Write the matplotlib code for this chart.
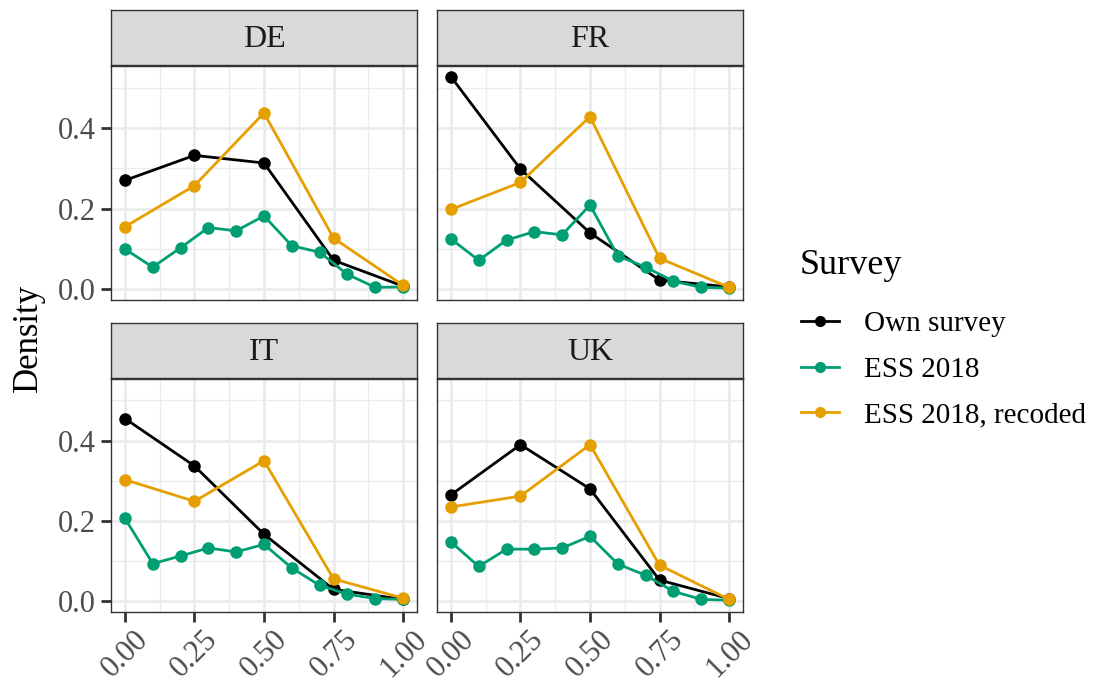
import matplotlib.pyplot as plt
import matplotlib.transforms as mtransforms
from matplotlib.lines import Line2D

plt.rcParams['font.family'] = ['Liberation Serif', 'DejaVu Serif']

countries = ["DE", "FR", "IT", "UK"]
x_coarse = [0.0, 0.25, 0.5, 0.75, 1.0]
x_fine = [0.0, 0.1, 0.2, 0.3, 0.4, 0.5, 0.6, 0.7, 0.8, 0.9, 1.0]

own = {
    "DE": [0.270, 0.332, 0.313, 0.072, 0.008],
    "FR": [0.527, 0.298, 0.140, 0.023, 0.006],
    "IT": [0.455, 0.337, 0.167, 0.030, 0.005],
    "UK": [0.265, 0.390, 0.280, 0.053, 0.007],
}
ess = {
    "DE": [0.100, 0.055, 0.103, 0.153, 0.145, 0.182, 0.108, 0.092, 0.037, 0.005, 0.006],
    "FR": [0.125, 0.072, 0.122, 0.143, 0.135, 0.209, 0.083, 0.055, 0.020, 0.005, 0.003],
    "IT": [0.207, 0.094, 0.113, 0.133, 0.123, 0.142, 0.083, 0.040, 0.018, 0.007, 0.005],
    "UK": [0.148, 0.087, 0.130, 0.130, 0.133, 0.162, 0.093, 0.065, 0.025, 0.005, 0.003],
}
ess_recoded = {
    "DE": [0.155, 0.257, 0.437, 0.127, 0.010],
    "FR": [0.198, 0.265, 0.428, 0.077, 0.005],
    "IT": [0.303, 0.249, 0.350, 0.056, 0.008],
    "UK": [0.235, 0.262, 0.390, 0.090, 0.005],
}

series_names = ["Own survey", "ESS 2018", "ESS 2018, recoded"]
colors = ["#000000", "#009E73", "#E69F00"]

W, H = 1099, 682
fig = plt.figure(figsize=(W / 100, H / 100), dpi=100)

# pixel boxes of the plot panels
cols = [(111, 417), (437, 743)]
rows = [(66, 300), (379, 612)]
strip_h = 55

ymax_all = max(max(v) for v in list(own.values()) + list(ess.values()) + list(ess_recoded.values()))
ylim = (-0.05 * ymax_all, ymax_all * 1.05)

# nudge rotated x labels a bit to the right, as ggplot places them
shift = mtransforms.ScaledTranslation(9 / 100, 0, fig.dpi_scale_trans)

for i, c in enumerate(countries):
    r, k = divmod(i, 2)
    l, rr = cols[k]
    t, b = rows[r]
    ax = fig.add_axes([l / W, 1 - b / H, (rr - l) / W, (b - t) / H])
    ax.set_xlim(-0.05, 1.05)
    ax.set_ylim(*ylim)
    ax.set_xticks(x_coarse)
    ax.set_xticks([0.125, 0.375, 0.625, 0.875], minor=True)
    ax.set_yticks([0.0, 0.2, 0.4])
    ax.set_yticks([0.1, 0.3, 0.5], minor=True)
    ax.grid(which="major", color="#EBEBEB", lw=2.0, zorder=0)
    ax.grid(which="minor", color="#EBEBEB", lw=1.0, zorder=0)
    ax.set_axisbelow(True)
    for s in ax.spines.values():
        s.set_color("#333333")
        s.set_linewidth(1.0)
    ax.tick_params(which="major", length=7, width=2.0, color="#333333",
                   labelsize=22, labelcolor="#4D4D4D", pad=4)
    ax.tick_params(axis="x", pad=2)
    ax.tick_params(which="minor", length=0)
    if k == 1:
        ax.tick_params(axis="y", length=0, labelleft=False)
    if r == 0:
        ax.tick_params(axis="x", length=0, labelbottom=False)
    else:
        ax.set_xticklabels(["0.00", "0.25", "0.50", "0.75", "1.00"],
                           rotation=45, ha="right", rotation_mode="anchor")
        for lab in ax.get_xticklabels():
            lab.set_transform(lab.get_transform() + shift)
    ax.set_yticklabels(["0.0", "0.2", "0.4"])

    ax.plot(x_coarse, own[c], color=colors[0], lw=2.0, marker="o", ms=8, zorder=3)
    ax.plot(x_fine, ess[c], color=colors[1], lw=2.0, marker="o", ms=8, zorder=3)
    ax.plot(x_coarse, ess_recoded[c], color=colors[2], lw=2.0, marker="o", ms=8, zorder=3)

    # strip
    sax = fig.add_axes([l / W, 1 - (t - 1) / H, (rr - l) / W, strip_h / H])
    sax.set_xticks([])
    sax.set_yticks([])
    sax.set_facecolor("#D9D9D9")
    for s in sax.spines.values():
        s.set_color("#333333")
        s.set_linewidth(1.0)
    sax.text(0.5, 0.47, c, ha="center", va="center", fontsize=23, color="#1A1A1A",
             transform=sax.transAxes)

fig.text(28 / W, 1 - 338 / H, "Density", rotation=90, ha="center", va="center", fontsize=25)

fig.text(800 / W, 1 - 266 / H, "Survey", ha="left", va="center", fontsize=26)
handles = [Line2D([], [], color=col, lw=2.0, marker="o", ms=7) for col in colors]
leg = fig.legend(handles, series_names, loc="upper left",
                 bbox_to_anchor=(801 / W, 1 - 311 / H), frameon=False,
                 fontsize=21, handlelength=1.3,
                 labelspacing=0.65, handletextpad=0.85, borderaxespad=0,
                 borderpad=0)

fig.savefig("out.png", dpi=100)
